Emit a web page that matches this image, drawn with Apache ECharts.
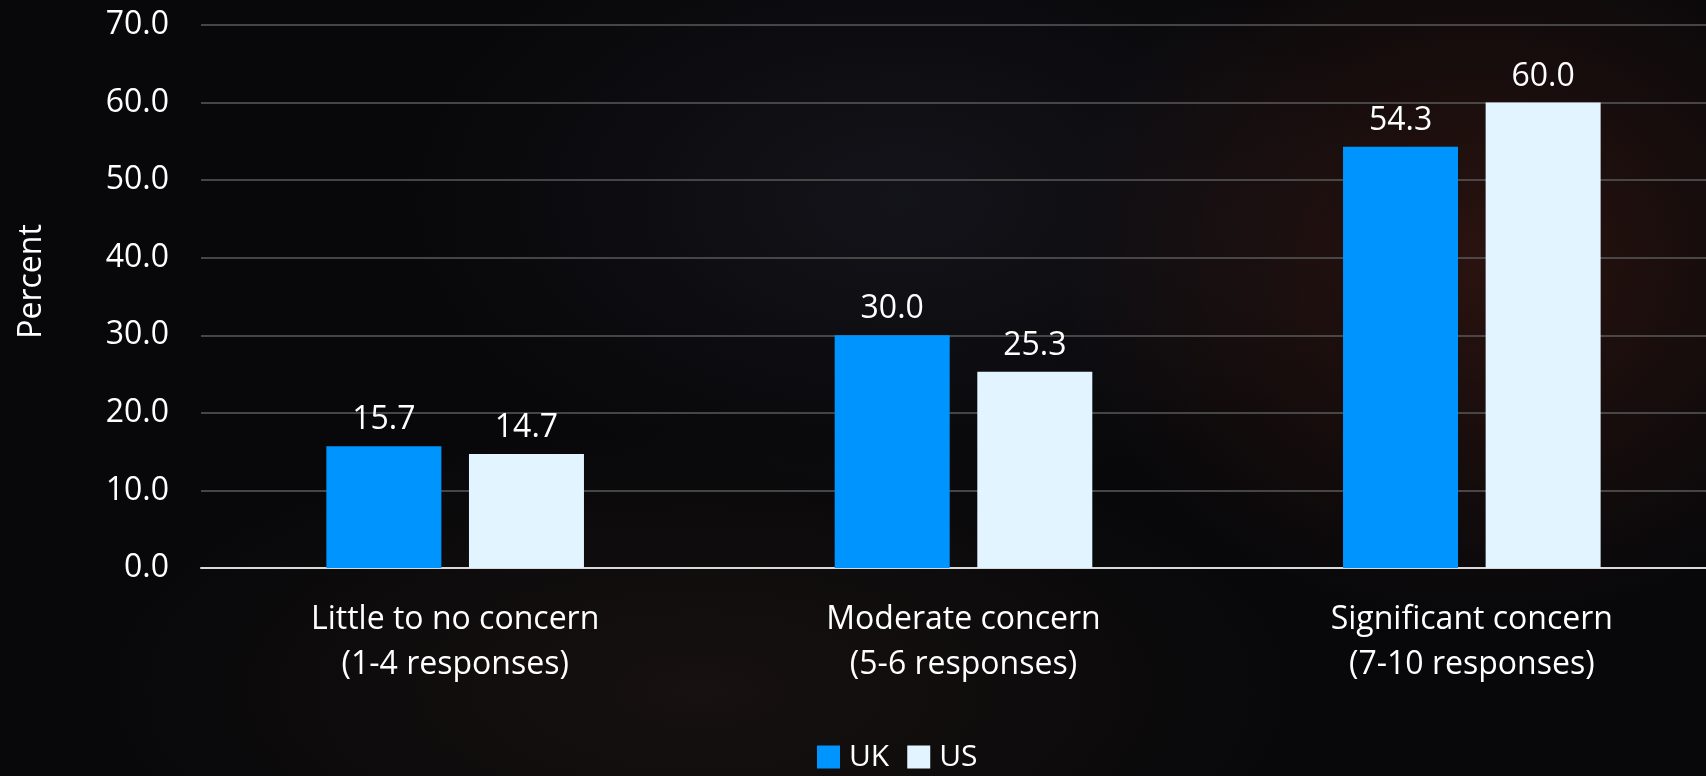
<!DOCTYPE html>
<html>
<head>
<meta charset="utf-8">
<title>Concern UK vs US</title>
<script src="https://cdn.jsdelivr.net/npm/echarts@6/dist/echarts.min.js"></script>
<style>
  html, body {
    margin: 0;
    padding: 0;
    width: 1706px;
    height: 776px;
    overflow: hidden;
    background: #08080a;
  }
  #bg {
    position: absolute;
    left: 0; top: 0; width: 1706px; height: 776px;
    background:
      radial-gradient(ellipse 420px 360px at 1480px 260px, rgba(70, 28, 20, 0.55), rgba(0,0,0,0)),
      radial-gradient(ellipse 500px 300px at 900px 200px, rgba(40, 40, 55, 0.35), rgba(0,0,0,0)),
      radial-gradient(ellipse 600px 260px at 700px 690px, rgba(45, 30, 25, 0.4), rgba(0,0,0,0)),
      #08080a;
  }
  #main { position: absolute; left: 0; top: 0; width: 1706px; height: 776px; }
</style>
</head>
<body>
<div id="bg"></div>
<div id="main"></div>
<script>
// chart data
const categories = [
  "Little to no concern\n(1-4 responses)",
  "Moderate concern\n(5-6 responses)",
  "Significant concern\n(7-10 responses)"
];
const ukValues = [15.7, 30.0, 54.3];
const usValues = [14.7, 25.3, 60.0];
const seriesNames = ["UK", "US"];
const yMin = 0;
const yMax = 70;
const yStep = 10;

const fontFamily = "'Open Sans', 'DejaVu Sans', sans-serif";

let myChart = echarts.init(document.getElementById("main"));

const valueLabel = {
  show: true,
  position: "top",
  distance: 10,
  color: "#ffffff",
  fontSize: 32,
  fontFamily: fontFamily,
  formatter: (p) => p.value.toFixed(1),
};

myChart.setOption({
  backgroundColor: "transparent",
  textStyle: { fontFamily: fontFamily },
  legend: {
    top: 742,
    left: 817,
    padding: 0,
    itemWidth: 23,
    itemHeight: 23,
    itemGap: 18,
    icon: "rect",
    textStyle: { color: "#ffffff", fontSize: 30, fontFamily: fontFamily, padding: [0, 0, 0, 4] },
    data: seriesNames,
  },
  grid: {
    top: 25,
    bottom: 208,
    left: 201,
    right: -20,
    outerBoundsMode: "none",
    containLabel: false,
  },
  xAxis: {
    type: "category",
    data: categories,
    axisTick: { show: false },
    axisLine: { lineStyle: { color: "#d9d9d9", width: 2 } },
    axisLabel: {
      color: "#ffffff",
      fontSize: 32,
      lineHeight: 45,
      margin: 29,
      fontFamily: fontFamily,
    },
  },
  yAxis: {
    type: "value",
    min: yMin,
    max: yMax,
    interval: yStep,
    name: "Percent",
    nameLocation: "middle",
    nameRotate: 90,
    nameGap: 153,
    nameTextStyle: { color: "#ffffff", fontSize: 32, fontFamily: fontFamily, padding: [0, 0, 0, 30] },
    axisLine: { show: false },
    axisTick: { show: false },
    axisLabel: {
      color: "#ffffff",
      fontSize: 32,
      margin: 32,
      fontFamily: fontFamily,
      formatter: (v) => v.toFixed(1),
    },
    splitLine: { lineStyle: { color: "#5a5a5a", width: 1.5 } },
  },
  series: [
    {
      name: seriesNames[0],
      type: "bar",
      data: ukValues,
      barWidth: 115,
      barGap: "24%",
      itemStyle: { color: "#0094ff" },
      label: valueLabel,
    },
    {
      name: seriesNames[1],
      type: "bar",
      data: usValues,
      barWidth: 115,
      barGap: "24%",
      itemStyle: { color: "#e1f4ff" },
      label: valueLabel,
    },
  ],
});
</script>
</body>
</html>
